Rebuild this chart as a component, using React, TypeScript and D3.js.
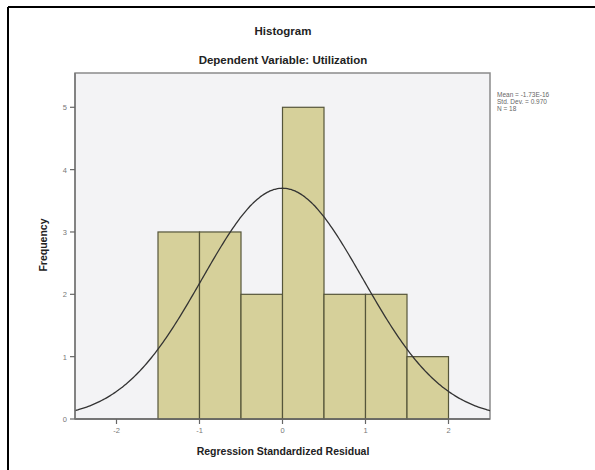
import React from "react";
import * as d3 from "d3";

const binStarts = [-1.5, -1.0, -0.5, 0.0, 0.5, 1.0, 1.5];
const binWidth = 0.5;
const frequencies = [3, 3, 2, 5, 2, 2, 1];
const xTicks = [-2, -1, 0, 1, 2];
const yTicks = [0, 1, 2, 3, 4, 5];
const statLines = ["Mean = -1.73E-16", "Std. Dev. = 0.970", "N = 18"];
const mean = 0;
const sd = 0.97;
const n = 18;

export default function App() {
  const W = 595, H = 470;
  const left = 75, right = 490, top = 73, bottom = 419;
  const x = d3.scaleLinear().domain([-2.5, 2.5]).range([left, right]);
  const y = d3.scaleLinear().domain([0, 5.55]).range([bottom, top]);
  const curvePts = d3.range(-2.5, 2.5001, 0.02).map((v) => [
    v,
    (n * binWidth) / (sd * Math.sqrt(2 * Math.PI)) * Math.exp(-((v - mean) ** 2) / (2 * sd * sd)),
  ]);
  const line = d3.line<number[]>().x((d) => x(d[0])).y((d) => y(d[1])).curve(d3.curveBasis);
  const font = "Arial, 'Liberation Sans', sans-serif";
  return (
    <svg width={W} height={H} style={{ position: "absolute", left: 0, top: 0, background: "#fff" }}>
      <rect x={0} y={0} width={W} height={H} fill="#fff" />
      <line x1={8} y1={7} x2={W} y2={7} stroke="#000" strokeWidth={2} />
      <line x1={8} y1={7} x2={8} y2={H} stroke="#000" strokeWidth={2} />
      <text x={283} y={35} textAnchor="middle" fontFamily={font} fontWeight="bold" fontSize={11.5} fill="#222">Histogram</text>
      <text x={283} y={64} textAnchor="middle" fontFamily={font} fontWeight="bold" fontSize={11.5} fill="#222">Dependent Variable: Utilization</text>
      <rect x={left} y={top} width={right - left} height={bottom - top} fill="#f3f3f5" stroke="#8a8a8a" strokeWidth={1.5} />
      {binStarts.map((b, i) => (
        <rect key={i} x={x(b)} y={y(frequencies[i])} width={x(b + binWidth) - x(b)} height={y(0) - y(frequencies[i])}
          fill="#d6d09a" stroke="#55553a" strokeWidth={1.2} />
      ))}
      <path d={line(curvePts) || ""} fill="none" stroke="#333" strokeWidth={1.3} />
      <line x1={left} y1={bottom} x2={right} y2={bottom} stroke="#666" strokeWidth={1.5} />
      <line x1={left} y1={top} x2={left} y2={bottom} stroke="#777" strokeWidth={1.5} />
      {yTicks.map((t) => (
        <g key={t}>
          <line x1={left - 5} x2={left} y1={y(t)} y2={y(t)} stroke="#666" strokeWidth={1.2} />
          <text x={left - 8} y={y(t) + 3} textAnchor="end" fontFamily={font} fontSize={7.5} fill="#777">{t}</text>
        </g>
      ))}
      {xTicks.map((t) => (
        <g key={t}>
          <line x1={x(t)} x2={x(t)} y1={bottom} y2={bottom + 5} stroke="#666" strokeWidth={1.2} />
          <text x={x(t)} y={bottom + 14} textAnchor="middle" fontFamily={font} fontSize={7.5} fill="#777">{t}</text>
        </g>
      ))}
      <text x={283} y={455} textAnchor="middle" fontFamily={font} fontWeight="bold" fontSize={10.5} fill="#222">Regression Standardized Residual</text>
      <text transform={`translate(47,245) rotate(-90)`} textAnchor="middle" fontFamily={font} fontWeight="bold" fontSize={10.5} fill="#222">Frequency</text>
      {statLines.map((s, i) => (
        <text key={i} x={497} y={97 + i * 7} fontFamily={font} fontSize={6.5} fill="#666">{s}</text>
      ))}
    </svg>
  );
}
